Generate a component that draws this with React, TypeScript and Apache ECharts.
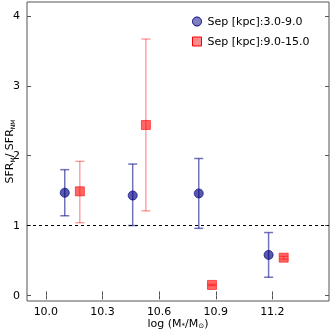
import React, { useEffect, useRef } from "react";
import * as echarts from "echarts";

const blueName = "Sep [kpc]:3.0-9.0";
const redName = "Sep [kpc]:9.0-15.0";
const blueX = [10.1, 10.46, 10.81, 11.18];
const blueY = [1.47, 1.43, 1.46, 0.58];
const blueLow = [1.14, 1.0, 0.96, 0.26];
const blueHigh = [1.8, 1.88, 1.96, 0.9];
const redX = [10.18, 10.53, 10.88, 11.26];
const redY = [1.49, 2.44, 0.15, 0.54];
const redLow = [1.04, 1.21, 0.14, 0.52];
const redHigh = [1.92, 3.67, 0.16, 0.56];
const xTicks = [10.0, 10.3, 10.6, 10.9, 11.2];
const yTicks = [0, 1, 2, 3, 4];

const FONT = "DejaVu Sans";

function errRender(color: string, width: number) {
  return (params: any, api: any) => {
    const x = api.value(0);
    const lo = api.coord([x, api.value(1)]);
    const hi = api.coord([x, api.value(2)]);
    const hw = 4.5;
    const style = { stroke: color, lineWidth: width, fill: "none" };
    return {
      type: "group",
      children: [
        { type: "line", shape: { x1: lo[0], y1: lo[1], x2: hi[0], y2: hi[1] }, style },
        { type: "line", shape: { x1: lo[0] - hw, y1: lo[1], x2: lo[0] + hw, y2: lo[1] }, style },
        { type: "line", shape: { x1: hi[0] - hw, y1: hi[1], x2: hi[0] + hw, y2: hi[1] }, style },
      ],
    };
  };
}

export default function App() {
  const ref = useRef<HTMLDivElement>(null);
  useEffect(() => {
    const chart = echarts.init(ref.current!, null, { renderer: "svg" });
    const tickCommon = { show: true, inside: true, length: 4, lineStyle: { color: "#555" } };
    chart.setOption({
      animation: false,
      grid: {
        left: 27, right: 2, top: 2, bottom: 30,
        outerBoundsMode: "none", containLabel: false,
        show: true, borderColor: "#555", borderWidth: 1, backgroundColor: "transparent",
      },
      legend: {
        orient: "vertical",
        left: 187,
        top: 11,
        itemWidth: 9,
        itemHeight: 9,
        itemGap: 9,
        textStyle: { fontFamily: FONT, fontSize: 11, color: "#000", padding: [0, 0, 0, 1] },
        data: [
          { name: blueName, icon: "circle", itemStyle: { color: "rgba(0,0,128,0.5)", borderColor: "#000080", borderWidth: 1 } },
          { name: redName, icon: "rect", itemStyle: { color: "rgba(255,0,0,0.45)", borderColor: "#ff0000", borderWidth: 1 } },
        ],
      },
      xAxis: [
        {
          type: "value",
          min: 9.9,
          max: 11.5,
          axisLine: { show: false },
          splitLine: { show: false },
          axisTick: { ...tickCommon, customValues: xTicks },
          axisLabel: { customValues: xTicks, formatter: (v: number) => v.toFixed(1), fontFamily: FONT, fontSize: 11, color: "#000", margin: 5 },
          name: "log (M{sub|*}/M{sub|⊙})",
          nameLocation: "middle",
          nameMoveOverlap: false,
          nameGap: 16,
          nameTextStyle: {
            fontFamily: FONT,
            fontSize: 11,
            color: "#000",
            rich: { sub: { fontFamily: FONT, fontSize: 7, padding: [5, 0, 0, 0], color: "#000" } },
          },
        },
        {
          type: "value",
          position: "top",
          min: 9.9,
          max: 11.5,
          axisLine: { show: false },
          splitLine: { show: false },
          axisTick: { ...tickCommon, customValues: xTicks },
          axisLabel: { show: false, customValues: xTicks },
        },
      ],
      yAxis: [
        {
          type: "value",
          min: -0.08,
          max: 4.2,
          axisLine: { show: false },
          splitLine: { show: false },
          axisTick: { ...tickCommon, customValues: yTicks },
          axisLabel: { customValues: yTicks, fontFamily: FONT, fontSize: 11, color: "#000", margin: 7 },
          name: "SFR{sub|M}/ SFR{sub|NM}",
          nameLocation: "middle",
          nameMoveOverlap: false,
          nameRotate: 90,
          nameGap: 12,
          nameTextStyle: {
            fontFamily: FONT,
            fontSize: 11,
            color: "#000",
            rich: { sub: { fontFamily: FONT, fontSize: 6, padding: [6, 0, 0, 0], color: "#000" } },
          },
        },
        {
          type: "value",
          position: "right",
          min: -0.08,
          max: 4.2,
          axisLine: { show: false },
          splitLine: { show: false },
          axisTick: { ...tickCommon, customValues: yTicks },
          axisLabel: { show: false, customValues: yTicks },
        },
      ],
      series: [
        {
          type: "custom",
          renderItem: errRender("rgba(0,0,128,0.55)", 1.5),
          data: blueX.map((x, i) => [x, blueLow[i], blueHigh[i]]),
          encode: { x: 0, y: [1, 2] },
          z: 2,
          silent: true,
          markLine: {
            silent: true,
            symbol: "none",
            label: { show: false },
            lineStyle: { color: "#000", type: [3, 3], width: 1 },
            data: [{ yAxis: 1 }],
          },
        },
        {
          type: "custom",
          renderItem: errRender("rgba(255,0,0,0.5)", 1.1),
          data: redX.map((x, i) => [x, redLow[i], redHigh[i]]),
          encode: { x: 0, y: [1, 2] },
          z: 2,
          silent: true,
        },
        {
          name: blueName,
          type: "scatter",
          symbol: "circle",
          symbolSize: 9,
          itemStyle: { color: "rgba(0,0,128,0.65)", borderColor: "rgba(0,0,128,0.7)", borderWidth: 1, opacity: 1 },
          data: blueX.map((x, i) => [x, blueY[i]]),
          z: 3,
        },
        {
          name: redName,
          type: "scatter",
          symbol: "rect",
          symbolSize: 9,
          itemStyle: { color: "rgba(255,0,0,0.6)", borderColor: "rgba(255,0,0,0.6)", borderWidth: 1, opacity: 1 },
          data: redX.map((x, i) => [x, redY[i]]),
          z: 3,
        },
      ],
    });
    return () => chart.dispose();
  }, []);
  return <div ref={ref} style={{ position: "fixed", left: 0, top: 0, width: 331, height: 331 }} />;
}
